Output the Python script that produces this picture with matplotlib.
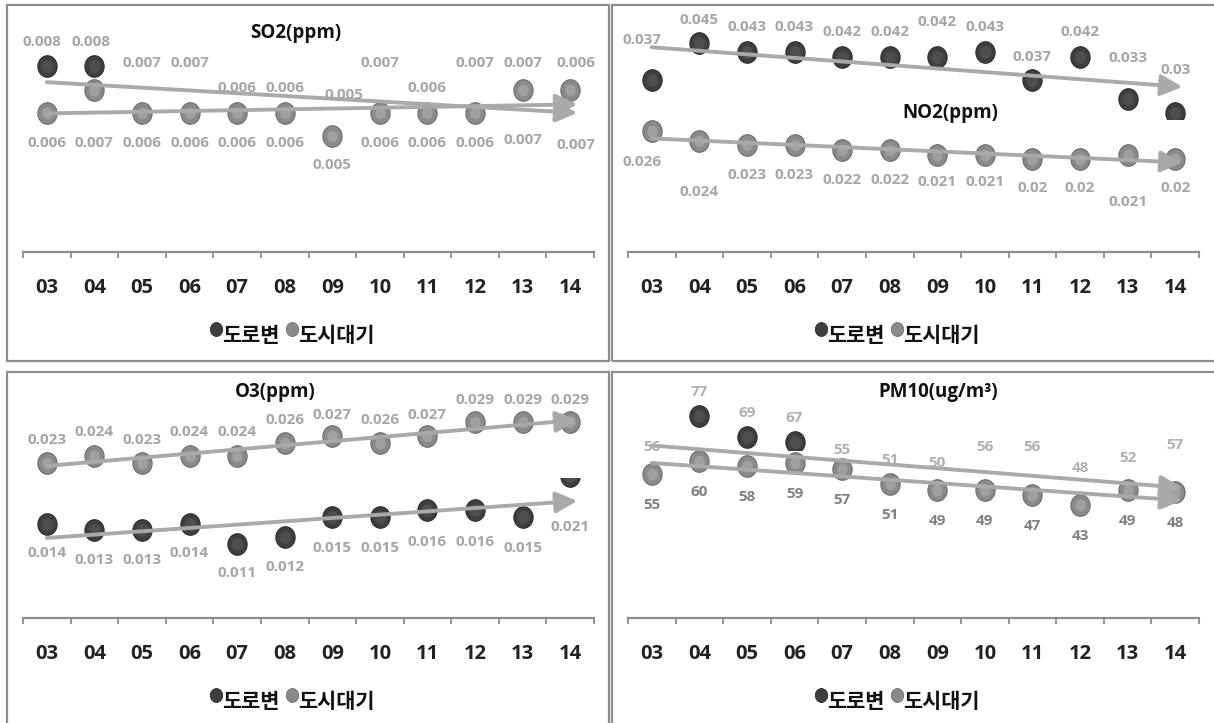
import numpy as np
import matplotlib
matplotlib.use('Agg')
import matplotlib.pyplot as plt
from matplotlib.patches import Rectangle, FancyArrowPatch
from matplotlib.path import Path
from matplotlib.lines import Line2D

plt.rcParams['font.family'] = ['Open Sans', 'Noto Sans CJK KR', 'DejaVu Sans']

# ---------------- data ----------------
years = ['03', '04', '05', '06', '07', '08', '09', '10', '11', '12', '13', '14']
series_names = ['도로변', '도시대기']

so2_road = [0.008, 0.008, 0.007, 0.007, 0.006, 0.006, 0.005, 0.007, 0.006, 0.007, 0.007, 0.006]
so2_city = [0.006, 0.007, 0.006, 0.006, 0.006, 0.006, 0.005, 0.006, 0.006, 0.006, 0.007, 0.007]
no2_road = [0.037, 0.045, 0.043, 0.043, 0.042, 0.042, 0.042, 0.043, 0.037, 0.042, 0.033, 0.030]
no2_city = [0.026, 0.024, 0.023, 0.023, 0.022, 0.022, 0.021, 0.021, 0.020, 0.020, 0.021, 0.020]
o3_road = [0.014, 0.013, 0.013, 0.014, 0.011, 0.012, 0.015, 0.015, 0.016, 0.016, 0.015, 0.021]
o3_city = [0.023, 0.024, 0.023, 0.024, 0.024, 0.026, 0.027, 0.026, 0.027, 0.029, 0.029, 0.029]
pm10_road = [56, 77, 69, 67, 55, 51, 50, 56, 56, 48, 52, 57]
pm10_city = [55, 60, 58, 59, 57, 51, 49, 49, 47, 43, 49, 48]

# ---------------- layout ----------------
W, H = 1214, 723
fig = plt.figure(figsize=(W / 100, H / 100), dpi=100)


def fx(x):
    return x / W


def fy(y):
    return 1 - y / H


LIGHT = '#a6a6a6'
panels = [
    dict(title='SO2(ppm)', road=so2_road, city=so2_city, box=(23, 20, 594, 252),
         ylim=(0, 0.010), title_xy=(296, 33), clip=('above', 77.5),
         road_dy=[-24, -24, -27, -27, -25, -25, -41, -27, -25, -27, -27, -50],
         city_dy=[30, 53, 30, 30, 30, 30, 29, 30, 30, 30, 50, 55],
         road_dx=[-5, -3, 0, 0, 0, 0, 12, 0, 0, 0, 0, 6],
         city_dx=[0, 0, 0, 0, 0, 0, 0, 0, 0, 0, 0, 6],
         colors=(LIGHT, LIGHT)),
    dict(title='NO2(ppm)', road=no2_road, city=no2_city, box=(628, 20, 1199, 252),
         ylim=(0, 0.050), title_xy=(950, 113), clip=('above', 119),
         road_dy=[-40, -23, -25, -25, -25, -25, -35, -25, -23, -25, -41, -43],
         city_dy=[31, 51, 30, 30, 30, 30, 27, 27, 29, 29, 47, 29],
         road_dx=[-10, 0, 0, 0, 0, 0, 0, 0, 0, 0, 0, 0],
         city_dx=[-10, 0, 0, 0, 0, 0, 0, 0, 0, 0, 0, 0],
         colors=(LIGHT, LIGHT)),
    dict(title='O3(ppm)', road=o3_road, city=o3_city, box=(23, 382, 594, 618),
         ylim=(0, 0.035), title_xy=(275, 392), clip=('below', 478),
         road_dy=[29, 30, 30, 29, 29, 30, 31, 31, 32, 32, 31, 51],
         city_dy=[-23, -24, -23, -24, -24, -23, -21, -23, -21, -22, -22, -22],
         road_dx=[0] * 12, city_dx=[0] * 12,
         colors=(LIGHT, LIGHT)),
    dict(title='PM10(ug/m³)', road=pm10_road, city=pm10_city, box=(628, 382, 1199, 618),
         ylim=(0, 90), title_xy=(938, 392), clip=('above', 450),
         road_dy=[-24] * 12, city_dy=[31] * 12,
         road_dx=[0] * 12, city_dx=[0] * 12,
         colors=('#b0b0b0', '#808080')),
]

# slightly tall ellipse marker
_c = Path.unit_circle()
ELL = Path(_c.vertices * np.array([1.0, 1.12]), _c.codes)

ROAD_FACE, ROAD_EDGE, ROAD_HI = '#3e3e3e', '#2c2c2c', '#4e4e4e'
CITY_FACE, CITY_EDGE, CITY_HI = '#8a8a8a', '#6c6c6c', '#a0a0a0'
ARROW = '#a9a9a9'
MS = 15.5

x = np.arange(len(years))

for p in panels:
    x0, y0, x1, y1 = p['box']
    ax = fig.add_axes([fx(x0), fy(y1), (x1 - x0) / W, (y1 - y0) / H])
    ax.set_xlim(-0.5, len(years) - 0.5)
    ax.set_ylim(*p['ylim'])
    ax.patch.set_alpha(0)
    for s in ('left', 'right', 'top'):
        ax.spines[s].set_visible(False)
    ax.spines['bottom'].set_color('#8c8c8c')
    ax.spines['bottom'].set_linewidth(1.6)
    ax.set_yticks([])
    ax.set_xticks(x)
    ax.set_xticklabels(years, fontsize=14.5, fontweight='bold', color='#222222')
    ax.set_xticks(np.arange(-0.5, len(years), 1.0), minor=True)
    ax.tick_params(axis='x', which='major', length=0, pad=19)
    ax.tick_params(axis='x', which='minor', length=4.5, width=1.3, color='#8c8c8c', direction='out')

    road = np.array(p['road'], dtype=float)
    city = np.array(p['city'], dtype=float)

    # visible region for the road-side markers (the rest is covered in the original)
    h = y1 - y0
    mode, cut = p['clip']
    frac = (y1 - cut) / h
    if mode == 'above':
        clip_rect = Rectangle((-0.2, frac), 1.4, 5, transform=ax.transAxes)
    else:
        clip_rect = Rectangle((-0.2, -5), 1.4, 5 + frac, transform=ax.transAxes)

    for ms, fc, ec, z in ((MS, ROAD_FACE, ROAD_EDGE, 3), (MS * 0.55, ROAD_HI, ROAD_HI, 3.1)):
        ln, = ax.plot(x, road, ls='none', marker=ELL, ms=ms, mfc=fc, mec=ec, mew=0.8, zorder=z)
        ln.set_clip_path(clip_rect)
    ax.plot(x, city, ls='none', marker=ELL, ms=MS, mfc=CITY_FACE, mec=CITY_EDGE, mew=0.8, zorder=4)
    ax.plot(x, city, ls='none', marker=ELL, ms=MS * 0.55, mfc=CITY_HI, mec=CITY_HI, mew=0, zorder=4.1)

    # linear trend arrows
    for vals in (road, city):
        k, b = np.polyfit(x, vals, 1)
        xe = len(years) - 1 + 0.15
        arr = FancyArrowPatch((0, b), (xe, k * xe + b),
                              arrowstyle='-|>,head_length=0.65,head_width=0.32',
                              mutation_scale=20, lw=2.8, color=ARROW,
                              shrinkA=0, shrinkB=0, zorder=5, clip_on=False)
        ax.add_patch(arr)

    # data labels
    for vals, dys, dxs, col in ((road, p['road_dy'], p['road_dx'], p['colors'][0]),
                                (city, p['city_dy'], p['city_dx'], p['colors'][1])):
        for xi, v, dy, dx in zip(x, vals, dys, dxs):
            ax.annotate(f'{v:g}', (xi, v), xytext=(dx, -dy), textcoords='offset pixels',
                        ha='center', va='center', fontsize=11, fontweight='bold',
                        color=col, zorder=6, annotation_clip=False)

    # title
    tx, ty = p['title_xy']
    fig.text(fx(tx), fy(ty), p['title'], ha='center', va='center',
             fontsize=13.5, fontweight='bold', color='#111111')

    # legend
    ly = y1 + 84
    lx = x0 + 193
    for name, fc, ec, off_m, off_t in ((series_names[0], ROAD_FACE, ROAD_EDGE, 0, 6),
                                       (series_names[1], CITY_FACE, CITY_EDGE, 76, 82)):
        fig.add_artist(Line2D([fx(lx + off_m)], [fy(ly - 7)], transform=fig.transFigure,
                              ls='none', marker=ELL, ms=10, mfc=fc, mec=ec, mew=0.6))
        fig.text(fx(lx + off_t), fy(ly), name, ha='left', va='center',
                 fontsize=15, fontweight='bold', color='#111111',
                 family=['Noto Sans CJK KR', 'DejaVu Sans'])

# panel borders
BC = '#8f8f8f'
for (bx0, by0, bx1, by1) in ((7, 5, 609, 361), (612, 5, 1240, 361),
                             (7, 372, 609, 760), (612, 372, 1240, 760)):
    fig.add_artist(Rectangle((fx(bx0), fy(by1)), (bx1 - bx0) / W, (by1 - by0) / H,
                             transform=fig.transFigure, fill=False, ec=BC, lw=1.6))

fig.savefig('out.png', dpi=100)
